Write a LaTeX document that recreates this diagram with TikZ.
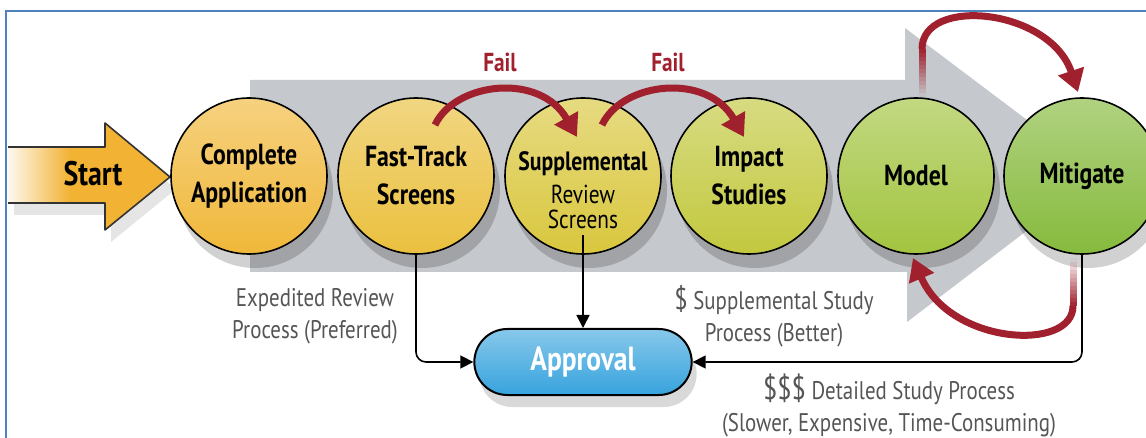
\documentclass[tikz,border=0pt]{standalone}
\usepackage{fontspec}
\setmainfont{PT Sans}[FakeStretch=0.82]
\usetikzlibrary{arrows.meta,shapes.misc,shadows}
\definecolor{framecol}{HTML}{4F81BD}
\definecolor{arrowgrey}{HTML}{C5C8CC}
\definecolor{startc}{HTML}{F2B233}
\definecolor{appc}{HTML}{F0B83A}
\definecolor{fastc}{HTML}{EAC03E}
\definecolor{suppc}{HTML}{D9C73E}
\definecolor{impactc}{HTML}{C2C83E}
\definecolor{modelc}{HTML}{A2C43F}
\definecolor{mitigc}{HTML}{86BA3D}
\definecolor{failred}{HTML}{A0202D}
\definecolor{notegrey}{HTML}{555555}
\definecolor{apprblue}{HTML}{37A3DD}
\begin{document}
\begin{tikzpicture}[x=1pt,y=-1pt,
	ball/.style={circle,draw=black,line width=1.6pt,minimum size=156pt,inner sep=0pt,align=center,
		font=\fontsize{29}{38}\selectfont\bfseries,top color=#1!65!white,middle color=#1,bottom color=#1,
		drop shadow={shadow xshift=6pt,shadow yshift=-14pt,opacity=.18,fill=black}},
	fail/.style={draw=failred,line width=7pt,-{Triangle[length=22pt,width=26pt]}},
	failtxt/.style={text=failred,font=\fontsize{26}{30}\selectfont\bfseries},
	conn/.style={draw=black,line width=1.6pt,rounded corners=10pt,-{Triangle[length=13pt,width=13pt]}},
	note/.style={text=notegrey,align=center,font=\fontsize{25.5}{32}\selectfont}]
	\useasboundingbox(0,0)rectangle(1146,438);
	\draw[framecol,line width=2.2pt](6,438)--(6,11)--(1146,11);
	% big grey arrow
	\fill[arrowgrey](250,80)--(905,80)--(905,28)--(1100,175)--(907,322)--(907,272)--(250,272)--cycle;
	% start arrow
	\fill[black,opacity=.1,shift={(6,12)}](105,147)--(105,123)--(170,177)--(105,230)--(105,203)--(8,203)--(8,147)--cycle;
	\fill[startc](8,147)--(105,147)--(105,123)--(170,177)--(105,230)--(105,203)--(8,203)--cycle;
	\shade[left color=startc!8!white,right color=startc](8,147)rectangle(70,203);
	\draw[black!80,line width=1.6pt,line join=round](8,147)--(105,147)--(105,123)--(170,177)--(105,230)--(105,203)--(8,203);
	\node[font=\fontsize{34}{40}\selectfont\bfseries](start)at(93,174){Start};
	% circles
	\node[ball=appc](app)at(249,176){Complete\\Application};
	\node[ball=fastc](fast)at(416,176){Fast-Track\\Screens};
	\node[ball=suppc](supp)at(583,176){};
	\node[align=center,font=\fontsize{26.5}{33}\selectfont\bfseries](supptext)at(583,190)
		{Supplemental\\\mdseries\fontsize{26}{25}\selectfont Review\\[-8pt]\mdseries\fontsize{26}{25}\selectfont Screens};
	\node[ball=impactc](impact)at(749,176){Impact\\Studies};
	\node[ball=modelc](model)at(916,176){Model};
	\node[ball=mitigc](mitig)at(1082,176){Mitigate};
	% fail loops
	\node[failtxt](fail1)at(500,62){Fail};
	\node[failtxt](fail2)at(668,62){Fail};
	\draw[fail](435,125)..controls(455,82)and(540,72)..(577,137);
	\draw[fail](602,125)..controls(622,82)and(707,72)..(744,137);
	\foreach\i[evaluate=\i as\op using \i/12+.04]in{0,...,11}{
		\draw[failred,line width=7pt,opacity=\op](922,{97-4*\i})--(922,{93-4*\i});
		\draw[failred,line width=7pt,opacity=\op](1073,{258+4*\i})--(1073,{262+4*\i});}
	\draw[fail](922,49)..controls(922,-4)and(1050,8)..(1078,92);
	\draw[fail](1073,306)..controls(1073,352)and(950,345)..(913,258);
	% approval
	\node[rounded rectangle,draw=black,line width=2pt,minimum width=224pt,minimum height=66pt,
		top color=apprblue!60!white,middle color=apprblue,bottom color=apprblue,text=white,
		font=\fontsize{33.5}{36}\selectfont\bfseries,
		drop shadow={shadow xshift=5pt,shadow yshift=-12pt,opacity=.15,fill=black}](approval)at(583,362){Approval};
	\draw[conn](fast.south)|-(approval.west);
	\draw[conn]([yshift=20pt]supp.south)--(approval.north);
	\draw[conn](mitig.south)|-(approval.east);
	\node[note](expedited)at(315,316){Expedited Review\\Process (Preferred)};
	\node[note](suppstudy)at(774,316){{\fontsize{30}{30}\selectfont\$} Supplemental Study\\Process (Better)};
	\node[note](detailed)at(889,406){{\fontsize{32}{32}\selectfont\$\$\$} Detailed Study Process\\(Slower, Expensive, Time-Consuming)};
\end{tikzpicture}
\end{document}
